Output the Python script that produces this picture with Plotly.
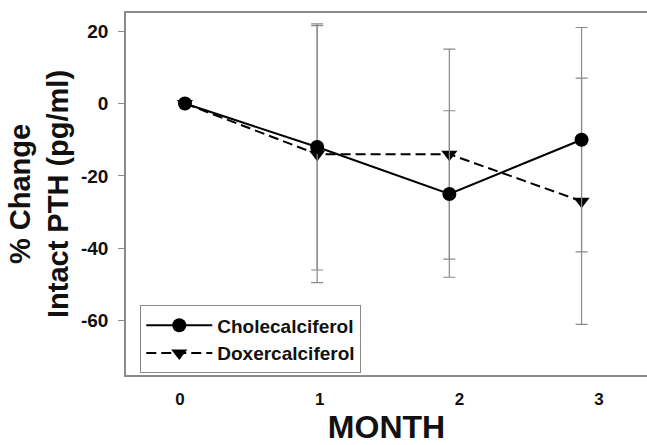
import plotly.graph_objects as go

months = [0, 1, 2, 3]
month_labels = ["0", "1", "2", "3"]
chole_mean = [0, -12, -25, -10]
chole_err = [0, 34, 23, 31]
doxer_mean = [0, -14, -14, -27]
doxer_err = [0, 35.5, 29, 34]
y_ticks = [20, 0, -20, -40, -60]
y_labels = ["20", "0", "-20", "-40", "-60"]

FONT = "Liberation Sans, Arial, sans-serif"
GRAY = "#8a8a8a"

fig = go.Figure()

fig.add_trace(go.Scatter(
    x=months, y=doxer_mean, name="Doxercalciferol", mode="lines+markers",
    line=dict(color="black", width=2, dash="10px,5px"),
    marker=dict(symbol="triangle-down", size=14, color="black"),
    error_y=dict(type="data", array=doxer_err, visible=True, color=GRAY,
                 thickness=1.2, width=6),
))
fig.add_trace(go.Scatter(
    x=months, y=chole_mean, name="Cholecalciferol", mode="lines+markers",
    line=dict(color="black", width=2),
    marker=dict(symbol="circle", size=14, color="black"),
    error_y=dict(type="data", array=chole_err, visible=True, color=GRAY,
                 thickness=1.2, width=6),
))
# carrier for the tick-label axis
fig.add_trace(go.Scatter(x=[], y=[], xaxis="x2", showlegend=False,
                         hoverinfo="skip"))

fig.update_layout(
    width=647, height=445,
    margin=dict(l=126, r=0, t=13, b=70, autoexpand=False),
    paper_bgcolor="white", plot_bgcolor="white",
    font=dict(family=FONT, color="#111111", weight="bold"),
    showlegend=True,
    legend=dict(
        x=0.027, y=0.193, xanchor="left", yanchor="top",
        bordercolor=GRAY, borderwidth=1.2, bgcolor="white",
        font=dict(size=19, family=FONT, weight="bold"),
        traceorder="reversed", itemwidth=66, tracegroupgap=0,
    ),
    xaxis=dict(
        range=[-0.446, 3.495], showline=True, linecolor=GRAY, linewidth=1.5,
        mirror=True, showgrid=False, zeroline=False, ticks="",
        showticklabels=False, automargin=False,
        title=dict(text="MONTH", font=dict(size=32, family=FONT, weight="bold"),
                   standoff=43),
    ),
    xaxis2=dict(
        overlaying="x", anchor="y", side="bottom", automargin=False,
        range=[-0.387, 3.343], showline=False, showgrid=False, zeroline=False,
        tickmode="array", tickvals=months, ticktext=month_labels, ticks="",
        tickfont=dict(size=17, family=FONT, weight="bold"),
        ticklabelstandoff=12,
    ),
    yaxis=dict(
        range=[-75, 25], showline=True, linecolor=GRAY, linewidth=1.5,
        showgrid=False, zeroline=False, ticks="outside", ticklen=6,
        tickcolor=GRAY, tickwidth=1.2, automargin=False,
        tickmode="array", tickvals=y_ticks, ticktext=y_labels,
        tickfont=dict(size=19, family=FONT, weight="bold"),
        ticklabelstandoff=6,
        title=dict(text="% Change<br>Intact PTH (pg/ml)",
                   font=dict(size=29, family=FONT, weight="bold"),
                   standoff=4),
    ),
)

fig.write_html(
    "out.html",
    config={"displayModeBar": False},
    post_script="document.body.style.margin='0';"
                "document.body.style.overflow='hidden';",
)
